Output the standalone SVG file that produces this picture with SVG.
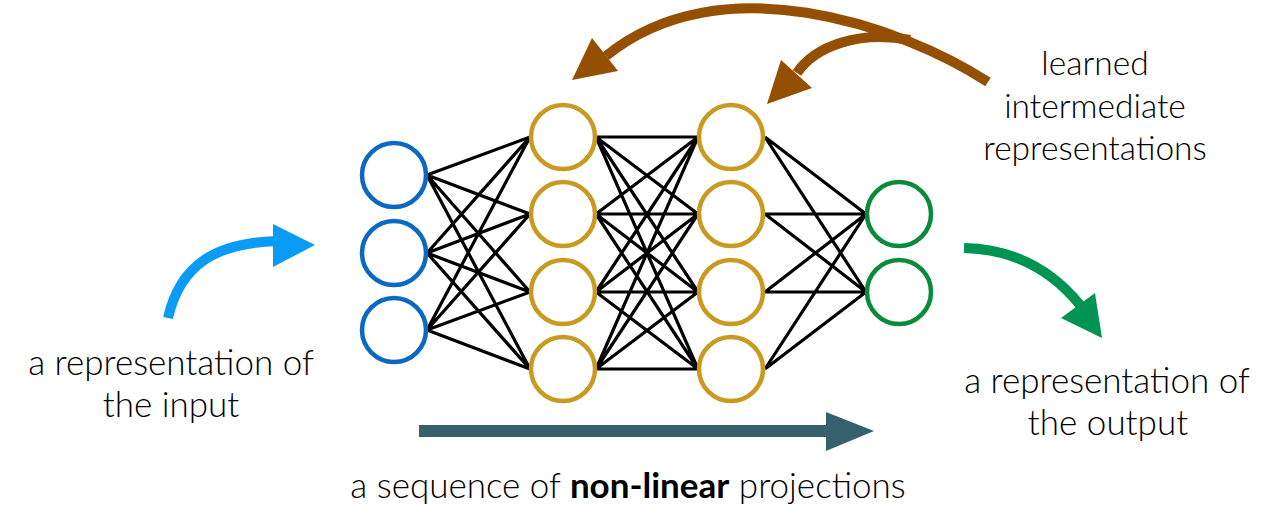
<svg xmlns="http://www.w3.org/2000/svg" width="1278" height="525" viewBox="0 0 1278 525">
<style>
.blue{fill:none;stroke:#0B68C4;stroke-width:4.5}
.gold{fill:none;stroke:#C99A20;stroke-width:4.5}
.green{fill:none;stroke:#0A8B3A;stroke-width:4.5}
.edge{stroke:#000;stroke-width:3.2;fill:none}
.lbl{font-family:Lato,"Open Sans","Liberation Sans",sans-serif;font-weight:300;font-size:35px;fill:#000;text-anchor:middle}
.sm{font-size:33.5px}
.bold{font-weight:700}
.brown{fill:none;stroke:#944F00;stroke-width:10}
.brownh{fill:#944F00}
</style>
<rect width="1278" height="525" fill="#fff"/>
<g id="connectors">
 <g id="edges-in">
  <path class="edge" d="M427,175L530,137M427,175L530,214M427,175L530,292M427,175L530,369
  M427,253L530,137M427,253L530,214M427,253L530,292M427,253L530,369
  M427,330L530,137M427,330L530,214M427,330L530,292M427,330L530,369"/>
 </g>
 <g id="edges-mid">
  <path class="edge" d="M596,137L698,137M596,137L698,214M596,137L698,292M596,137L698,369
  M596,214L698,137M596,214L698,214M596,214L698,292M596,214L698,369
  M596,292L698,137M596,292L698,214M596,292L698,292M596,292L698,369
  M596,369L698,137M596,369L698,214M596,369L698,292M596,369L698,369"/>
 </g>
 <g id="edges-out">
  <path class="edge" d="M765,137L866,214M765,137L866,292M765,214L866,214M765,214L866,292
  M765,292L866,214M765,292L866,292M765,369L866,214M765,369L866,292"/>
 </g>
 <g id="arrow-learned-1">
  <path class="brown" d="M988,82C900,25 720,-37 606,56"/>
  <polygon class="brownh" points="572,80 592,38 618,71"/>
 </g>
 <g id="arrow-learned-2">
  <path class="brown" d="M910,40C860,30 815,46 797,73"/>
  <polygon class="brownh" points="767,104 781,60 812,88"/>
 </g>
 <g id="arrow-input">
  <path fill="none" stroke="#0A9BF7" stroke-width="10" d="M168,318C180,265 215,243 277,241"/>
  <polygon fill="#0A9BF7" points="315,245 273,224 273,267"/>
 </g>
 <g id="arrow-output">
  <path fill="none" stroke="#009452" stroke-width="10" d="M964,248C1010,249 1050,268 1080,305"/>
  <polygon fill="#009452" points="1102,338 1061,318 1095,293"/>
 </g>
 <g id="arrow-sequence">
  <rect x="419" y="425" width="409" height="12" fill="#36606B"/>
  <polygon fill="#36606B" points="826,412 874,431 826,451"/>
 </g>
</g>
<g id="input-layer">
 <circle id="in1" class="blue" cx="394" cy="175" r="32"/>
 <circle id="in2" class="blue" cx="394" cy="253" r="32"/>
 <circle id="in3" class="blue" cx="394" cy="330" r="32"/>
</g>
<g id="hidden-layer-1">
 <circle id="h1a" class="gold" cx="563" cy="137" r="32"/>
 <circle id="h1b" class="gold" cx="563" cy="214" r="32"/>
 <circle id="h1c" class="gold" cx="563" cy="292" r="32"/>
 <circle id="h1d" class="gold" cx="563" cy="369" r="32"/>
</g>
<g id="hidden-layer-2">
 <circle id="h2a" class="gold" cx="731" cy="137" r="32"/>
 <circle id="h2b" class="gold" cx="731" cy="214" r="32"/>
 <circle id="h2c" class="gold" cx="731" cy="292" r="32"/>
 <circle id="h2d" class="gold" cx="731" cy="369" r="32"/>
</g>
<g id="output-layer">
 <circle id="out1" class="green" cx="899" cy="214" r="32"/>
 <circle id="out2" class="green" cx="899" cy="292" r="32"/>
</g>
<g id="label-input">
 <text class="lbl" x="171" y="375">a representation of</text>
 <text class="lbl" x="171" y="417">the input</text>
</g>
<g id="label-output">
 <text class="lbl" x="1107" y="393">a representation of</text>
 <text class="lbl" x="1108" y="435">the output</text>
</g>
<g id="label-learned">
 <text class="lbl sm" x="1095" y="75">learned</text>
 <text class="lbl sm" x="1095" y="118">intermediate</text>
 <text class="lbl sm" x="1095" y="160">representations</text>
</g>
<g id="label-sequence">
 <text class="lbl" x="628" y="498">a sequence of <tspan class="bold">non-linear</tspan> projections</text>
</g>
</svg>
